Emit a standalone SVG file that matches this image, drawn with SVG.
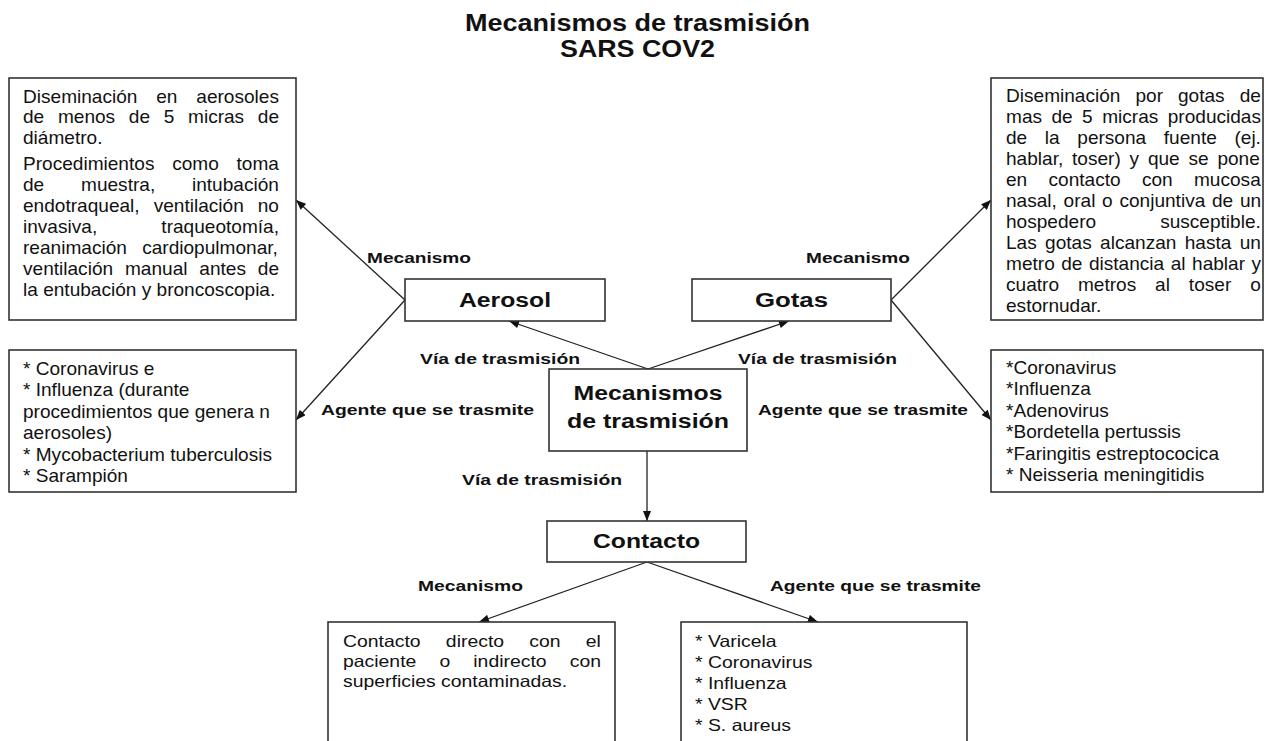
<svg xmlns="http://www.w3.org/2000/svg" width="1265" height="741" viewBox="0 0 1265 741">
<style>
.bg{fill:#fff}
.box{fill:#fff;stroke:#333;stroke-width:1.6}
.t{font-family:"Liberation Sans",Arial,sans-serif;fill:#111}
.body{font-size:17.5px}
.body2{font-size:16.3px}
.lbl{font-size:15px;font-weight:bold}
.node{font-weight:bold}
.title{font-size:23px;font-weight:bold}
.conn{stroke:#222;stroke-width:1.3;fill:none;marker-end:url(#arr)}
</style>
<defs>
<marker id="arr" viewBox="0 0 10 8" refX="10" refY="4" markerWidth="11" markerHeight="8" markerUnits="userSpaceOnUse" orient="auto">
<path d="M0,0 L10,4 L0,8 Z" fill="#111"/>
</marker>
</defs>
<rect class="bg" x="0" y="0" width="1265" height="741"/>

<g id="title" class="t title">
<text x="465" y="31" textLength="345" lengthAdjust="spacingAndGlyphs">Mecanismos de trasmisión</text>
<text x="560" y="57" textLength="155" lengthAdjust="spacingAndGlyphs">SARS COV2</text>
</g>

<g id="connectors">
<line class="conn" x1="648" y1="369" x2="509" y2="321"/>
<line class="conn" x1="648" y1="369" x2="789" y2="321"/>
<line class="conn" x1="647" y1="451" x2="647" y2="521"/>
<line class="conn" x1="405" y1="300" x2="296" y2="200"/>
<line class="conn" x1="405" y1="300" x2="296" y2="420"/>
<line class="conn" x1="891" y1="300" x2="991" y2="200"/>
<line class="conn" x1="891" y1="300" x2="991" y2="420"/>
<line class="conn" x1="647" y1="562" x2="479" y2="622"/>
<line class="conn" x1="647" y1="562" x2="818" y2="622"/>
</g>

<g id="edge-labels" class="t lbl">
<text x="367" y="263" textLength="104" lengthAdjust="spacingAndGlyphs">Mecanismo</text>
<text x="806" y="263" textLength="104" lengthAdjust="spacingAndGlyphs">Mecanismo</text>
<text x="420" y="364" textLength="160" lengthAdjust="spacingAndGlyphs">Vía de trasmisión</text>
<text x="738" y="364" textLength="159" lengthAdjust="spacingAndGlyphs">Vía de trasmisión</text>
<text x="321" y="415" textLength="213" lengthAdjust="spacingAndGlyphs">Agente que se trasmite</text>
<text x="758" y="415" textLength="210" lengthAdjust="spacingAndGlyphs">Agente que se trasmite</text>
<text x="462" y="485" textLength="160" lengthAdjust="spacingAndGlyphs">Vía de trasmisión</text>
<text x="418" y="591" textLength="105" lengthAdjust="spacingAndGlyphs">Mecanismo</text>
<text x="770" y="591" textLength="211" lengthAdjust="spacingAndGlyphs">Agente que se trasmite</text>
</g>

<g id="node-aerosol">
<rect class="box" x="405" y="279" width="200" height="42"/>
<text class="t node" x="459" y="307" font-size="19.5" textLength="92" lengthAdjust="spacingAndGlyphs">Aerosol</text>
</g>

<g id="node-gotas">
<rect class="box" x="692" y="279" width="199" height="42"/>
<text class="t node" x="755" y="307" font-size="19.5" textLength="73" lengthAdjust="spacingAndGlyphs">Gotas</text>
</g>

<g id="node-mecanismos">
<rect class="box" x="549" y="369" width="198" height="82"/>
<text class="t node" x="573.5" y="400" font-size="20" textLength="149" lengthAdjust="spacingAndGlyphs">Mecanismos</text>
<text class="t node" x="567" y="428" font-size="20" textLength="162" lengthAdjust="spacingAndGlyphs">de trasmisión</text>
</g>

<g id="node-contacto">
<rect class="box" x="547" y="521" width="199" height="41"/>
<text class="t node" x="593" y="548" font-size="19.5" textLength="107" lengthAdjust="spacingAndGlyphs">Contacto</text>
</g>

<g id="node-aerosol-mecanismo">
<rect class="box" x="9" y="78" width="287" height="242"/>
<g class="t body" transform="translate(23 0) scale(1.09 1)">
<text x="0" y="103" word-spacing="12.4">Diseminación en aerosoles</text>
<text x="0" y="123.5" word-spacing="7.7">de menos de 5 micras de</text>
<text x="0" y="144">diámetro.</text>
<text x="0" y="170" word-spacing="11.4">Procedimientos como toma</text>
<text x="0" y="191" word-spacing="28.9">de muestra, intubación</text>
<text x="0" y="212" word-spacing="8">endotraqueal, ventilación no</text>
<text x="0" y="233" word-spacing="54">invasiva, traqueotomía,</text>
<text x="0" y="254" word-spacing="9.2">reanimación cardiopulmonar,</text>
<text x="0" y="275" word-spacing="6">ventilación manual antes de</text>
<text x="0" y="296">la entubación y broncoscopia.</text>
</g>
</g>

<g id="node-aerosol-agente">
<rect class="box" x="9" y="350" width="287" height="142"/>
<g class="t body" transform="translate(23 0) scale(1.09 1)">
<text x="0" y="375">* Coronavirus e</text>
<text x="0" y="396.4">* Influenza (durante</text>
<text x="0" y="417.8">procedimientos que genera n</text>
<text x="0" y="439.2">aerosoles)</text>
<text x="0" y="460.6">* Mycobacterium tuberculosis</text>
<text x="0" y="482">* Sarampión</text>
</g>
</g>

<g id="node-gotas-mecanismo">
<rect class="box" x="991" y="78" width="272" height="242"/>
<g class="t body" transform="translate(1006 0) scale(1.09 1)">
<text x="0" y="102" word-spacing="8.9">Diseminación por gotas de</text>
<text x="0" y="123" word-spacing="3.8">mas de 5 micras producidas</text>
<text x="0" y="144" word-spacing="11.3">de la persona fuente (ej.</text>
<text x="0" y="165" word-spacing="3.2">hablar, toser) y que se pone</text>
<text x="0" y="186" word-spacing="14.7">en contacto con mucosa</text>
<text x="0" y="207" word-spacing="1.3">nasal, oral o conjuntiva de un</text>
<text x="0" y="228" word-spacing="53.9">hospedero susceptible.</text>
<text x="0" y="249" word-spacing="2.8">Las gotas alcanzan hasta un</text>
<text x="0" y="270" word-spacing="1.1">metro de distancia al hablar y</text>
<text x="0" y="291" word-spacing="12.5">cuatro metros al toser o</text>
<text x="0" y="312">estornudar.</text>
</g>
</g>

<g id="node-gotas-agente">
<rect class="box" x="991" y="350" width="272" height="142"/>
<g class="t body" transform="translate(1006 0) scale(1.09 1)">
<text x="0" y="374">*Coronavirus</text>
<text x="0" y="395.4">*Influenza</text>
<text x="0" y="416.8">*Adenovirus</text>
<text x="0" y="438.2">*Bordetella pertussis</text>
<text x="0" y="459.6">*Faringitis estreptococica</text>
<text x="0" y="481">* Neisseria meningitidis</text>
</g>
</g>

<g id="node-contacto-mecanismo">
<rect class="box" x="328" y="622" width="287" height="140"/>
<g class="t body2" transform="translate(343 0) scale(1.19 1)">
<text x="0" y="647" word-spacing="16.7">Contacto directo con el</text>
<text x="0" y="667" word-spacing="14.9">paciente o indirecto con</text>
<text x="0" y="687">superficies contaminadas.</text>
</g>
</g>

<g id="node-contacto-agente">
<rect class="box" x="681" y="622" width="286" height="140"/>
<g class="t body2" transform="translate(695 0) scale(1.19 1)">
<text x="0" y="647">* Varicela</text>
<text x="0" y="668">* Coronavirus</text>
<text x="0" y="689">* Influenza</text>
<text x="0" y="710">* VSR</text>
<text x="0" y="731">* S. aureus</text>
</g>
</g>
</svg>
